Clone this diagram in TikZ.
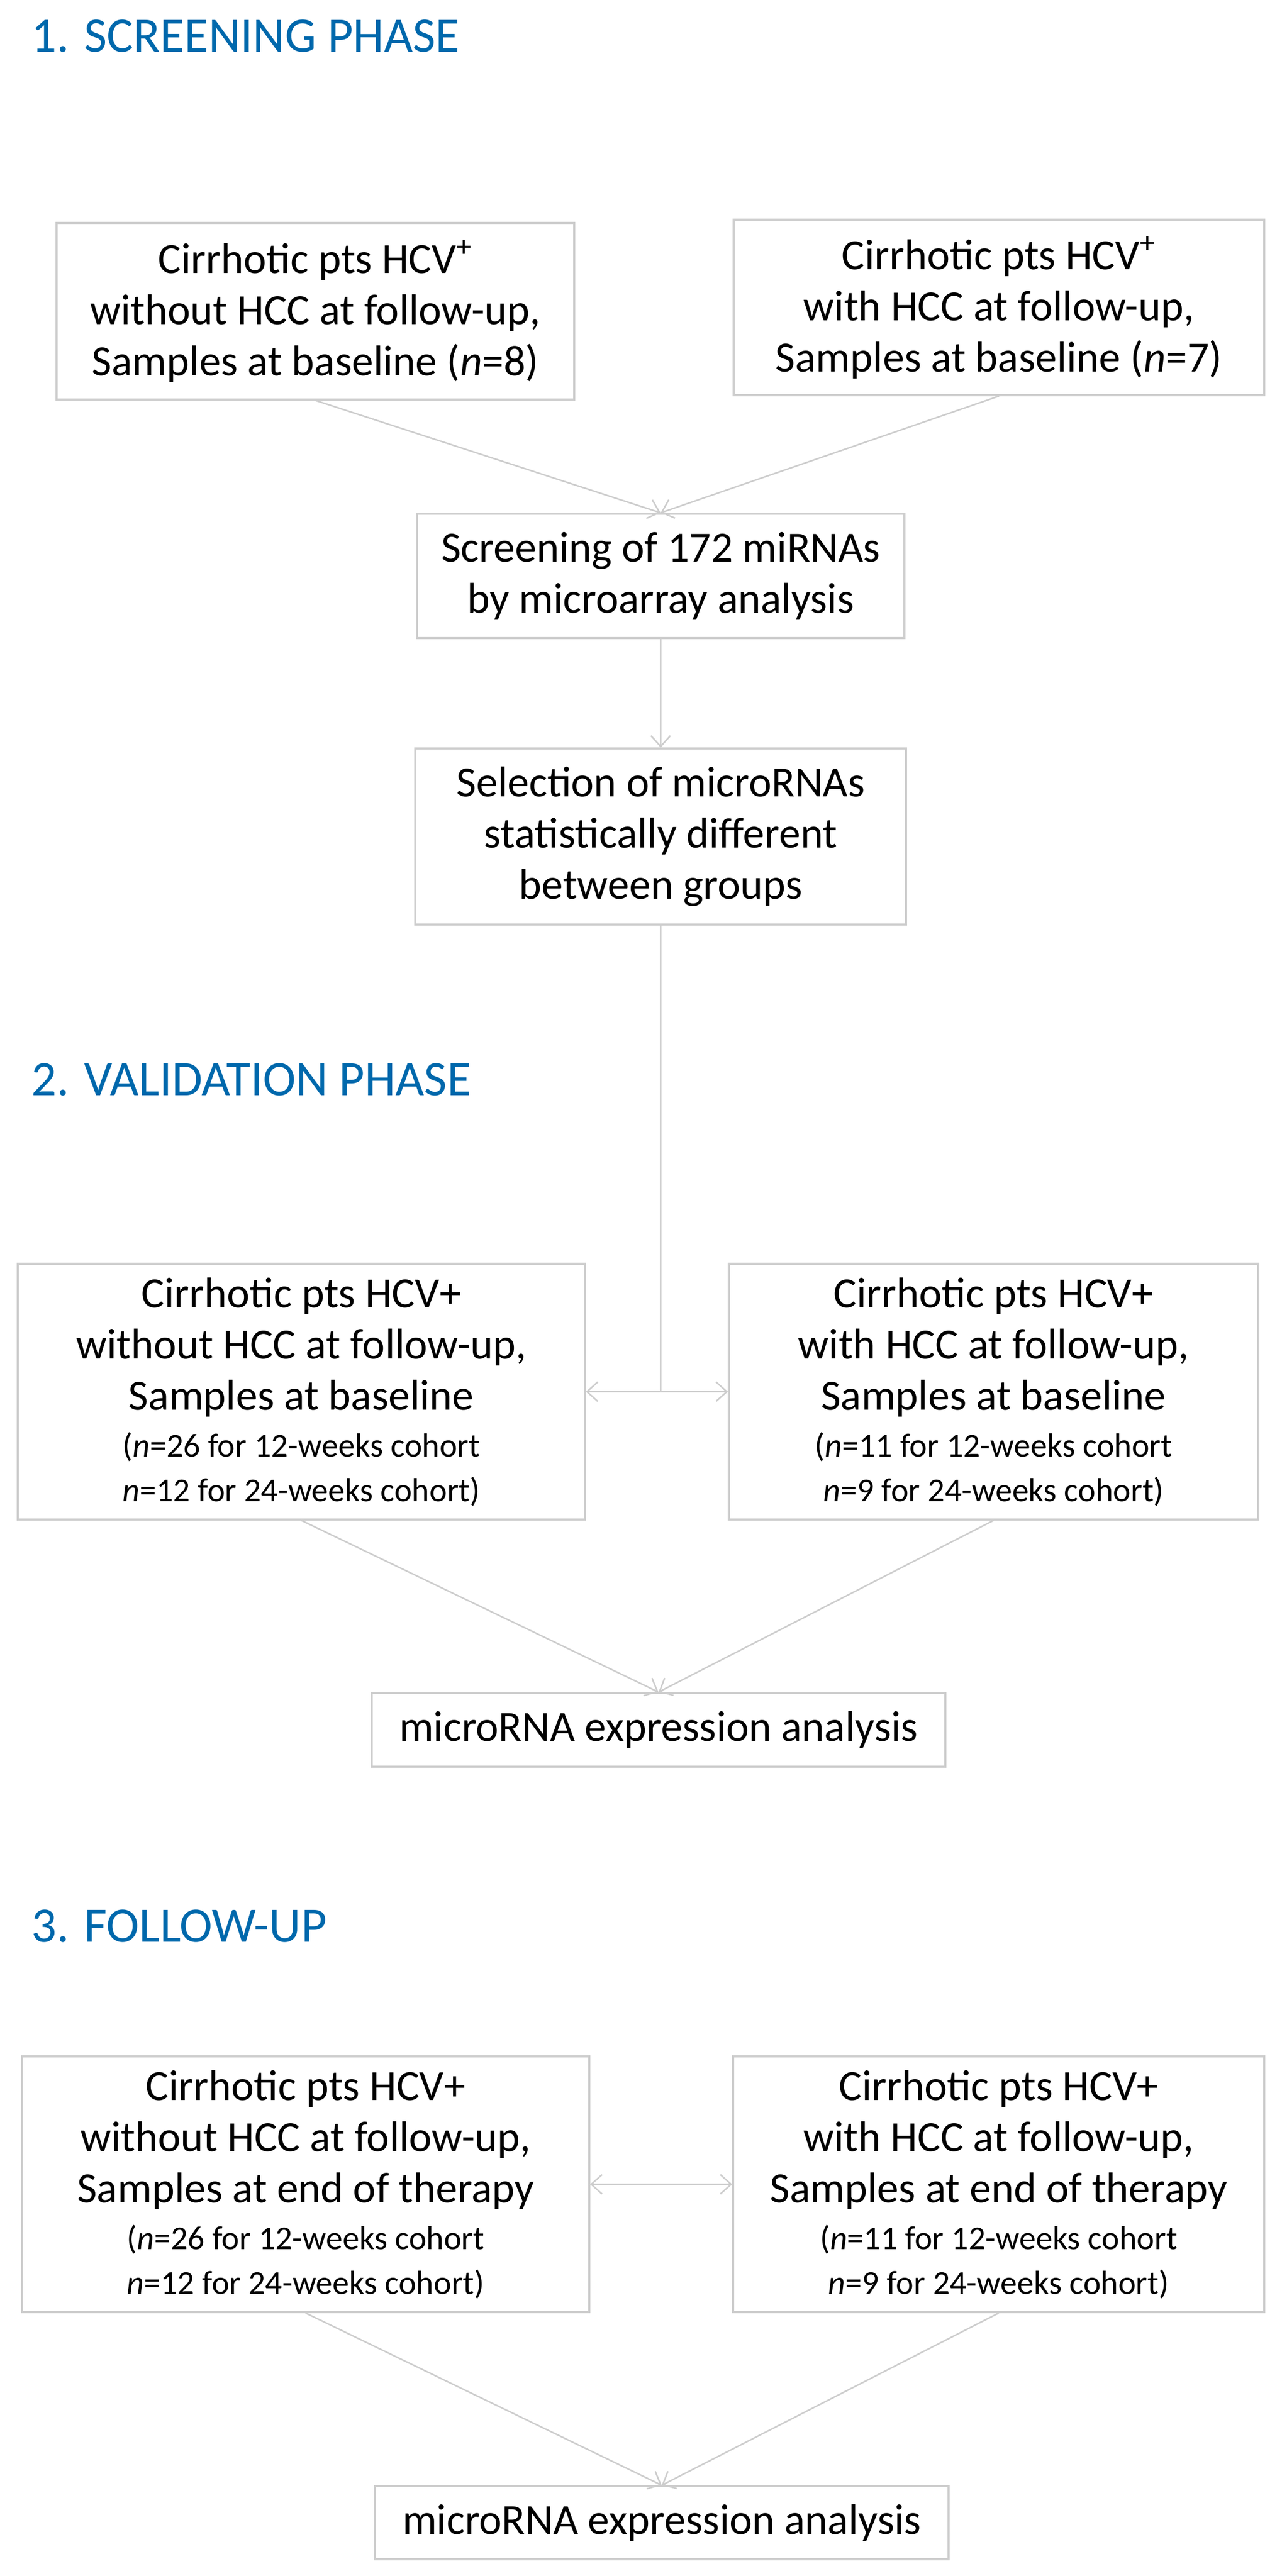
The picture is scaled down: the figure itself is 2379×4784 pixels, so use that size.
\documentclass[tikz,border=0pt]{standalone}
\usepackage{fontspec}
\setmainfont{Carlito}
\usetikzlibrary{arrows.meta}
\definecolor{ttl}{RGB}{0,104,172}
\definecolor{ln}{RGB}{205,205,205}
\tikzset{
  box/.style={draw=ln, line width=0.8pt, align=center, inner sep=0pt, font=\fontsize{20}{23.75}\selectfont},
  ttlnode/.style={anchor=west, text=ttl, inner sep=0pt, font=\fontsize{23}{27}\selectfont},
  conn/.style={draw=ln, line width=0.7pt, -{Straight Barb[length=5pt,width=9pt]}},
  dconn/.style={draw=ln, line width=0.7pt, {Straight Barb[length=5pt,width=9pt]}-{Straight Barb[length=5pt,width=9pt]}},
  plain/.style={draw=ln, line width=0.7pt}
}
\newcommand{\sm}[1]{{\fontsize{15.5}{18}\selectfont #1}}
\begin{document}
\begin{tikzpicture}[x=0.25pt,y=-0.25pt]
\useasboundingbox (0,0) rectangle (2379,4784);
\node[ttlnode] (t1) at (58,67) {1. SCREENING PHASE};
\node[ttlnode] (t2) at (58,2005) {2. VALIDATION PHASE};
\node[ttlnode] (t3) at (58,3577) {3. FOLLOW-UP};

\node[box, minimum width=961*0.25pt, minimum height=328*0.25pt] (A) at (585.5,578)
 {Cirrhotic pts HCV\textsuperscript{+}\\without HCC at follow-up,\\Samples at baseline (\textit{n}=8)};
\node[box, minimum width=985*0.25pt, minimum height=326*0.25pt] (B) at (1854.5,571)
 {Cirrhotic pts HCV\textsuperscript{+}\\with HCC at follow-up,\\Samples at baseline (\textit{n}=7)};
\node[box, minimum width=905*0.25pt, minimum height=231*0.25pt] (C) at (1226.5,1069.5)
 {Screening of 172 miRNAs\\by microarray analysis};
\node[box, minimum width=911*0.25pt, minimum height=327*0.25pt] (D) at (1226.5,1553.5)
 {Selection of microRNAs\\statistically different\\between groups};

\node[box, minimum width=1053*0.25pt, minimum height=475*0.25pt] (E) at (559.5,2584.5)
 {Cirrhotic pts HCV+\\without HCC at follow-up,\\Samples at baseline\\[-2pt]\sm{(\textit{n}=26 for 12-weeks cohort}\\[-3pt]\sm{\textit{n}=12 for 24-weeks cohort)}};
\node[box, minimum width=983*0.25pt, minimum height=475*0.25pt] (F) at (1844.5,2584.5)
 {Cirrhotic pts HCV+\\with HCC at follow-up,\\Samples at baseline\\[-2pt]\sm{(\textit{n}=11 for 12-weeks cohort}\\[-3pt]\sm{\textit{n}=9 for 24-weeks cohort)}};
\node[box, minimum width=1065*0.25pt, minimum height=137*0.25pt] (G) at (1222.5,3212.5)
 {microRNA expression analysis};

\node[box, minimum width=1053*0.25pt, minimum height=475*0.25pt] (H) at (567.5,4056.5)
 {Cirrhotic pts HCV+\\without HCC at follow-up,\\Samples at end of therapy\\[-2pt]\sm{(\textit{n}=26 for 12-weeks cohort}\\[-3pt]\sm{\textit{n}=12 for 24-weeks cohort)}};
\node[box, minimum width=986*0.25pt, minimum height=475*0.25pt] (I) at (1854,4056.5)
 {Cirrhotic pts HCV+\\with HCC at follow-up,\\Samples at end of therapy\\[-2pt]\sm{(\textit{n}=11 for 12-weeks cohort}\\[-3pt]\sm{\textit{n}=9 for 24-weeks cohort)}};
\node[box, minimum width=1065*0.25pt, minimum height=136*0.25pt] (J) at (1228.5,4685)
 {microRNA expression analysis};

\draw[conn] (A.south) -- (C.north);
\draw[conn] (B.south) -- (C.north);
\draw[conn] (C.south) -- (D.north);
\coordinate (m1) at (D.south |- E.east);
\draw[plain] (D.south) -- (m1);
\draw[dconn] (E.east) -- (F.west);
\draw[conn] (E.south) -- (G.north);
\draw[conn] (F.south) -- (G.north);
\draw[dconn] (H.east) -- (I.west);
\draw[conn] (H.south) -- (J.north);
\draw[conn] (I.south) -- (J.north);
\end{tikzpicture}
\end{document}
